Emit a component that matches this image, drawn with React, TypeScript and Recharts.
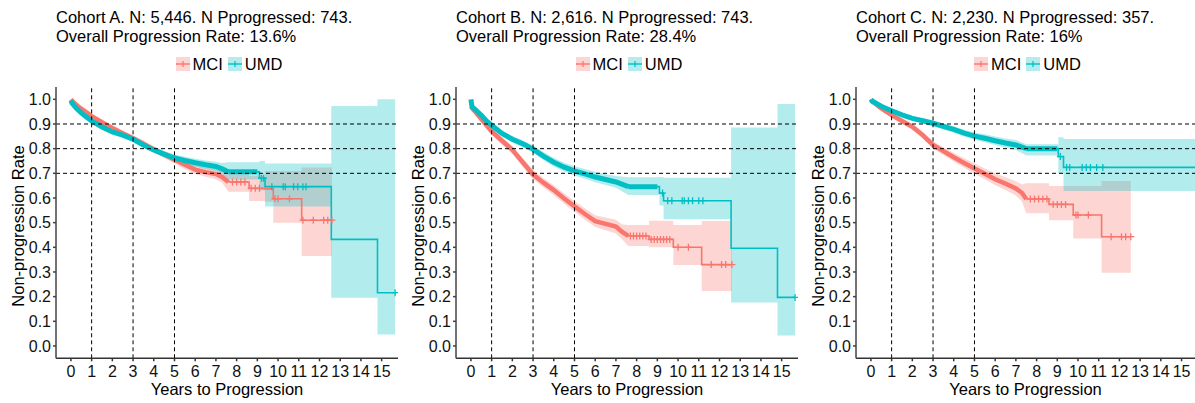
import React from 'react';
import { ComposedChart, Line, Area, Scatter, XAxis, YAxis, ReferenceLine, Label } from 'recharts';

type Pt = [number, number, number, number]; // time, survival, lower CI, upper CI

const RED = '#F8766D';
const TEAL = '#00BFC4';
const FONT = '"Liberation Sans", Arial, Helvetica, sans-serif';

const X_TICKS = [0, 1, 2, 3, 4, 5, 6, 7, 8, 9, 10, 11, 12, 13, 14, 15];
const Y_TICKS = [0, 0.1, 0.2, 0.3, 0.4, 0.5, 0.6, 0.7, 0.8, 0.9, 1.0];
const H_REFS = [0.9, 0.8, 0.7];
const V_REFS = [1, 3, 5];
const SERIES_NAMES = ['MCI', 'UMD'];

// ---------- Cohort A ----------
const A_MCI: Pt[] = [
  [0, 1.0, 1.0, 1.0], [0.1, 0.99, 0.985, 0.995], [0.3, 0.975, 0.968, 0.982], [0.5, 0.962, 0.954, 0.97],
  [0.75, 0.947, 0.938, 0.956], [1.0, 0.932, 0.923, 0.941], [1.25, 0.92, 0.91, 0.93], [1.5, 0.907, 0.897, 0.917],
  [1.75, 0.895, 0.885, 0.905], [2.0, 0.884, 0.874, 0.894], [2.5, 0.862, 0.851, 0.873], [3.0, 0.842, 0.83, 0.854],
  [3.5, 0.82, 0.807, 0.833], [4.0, 0.797, 0.784, 0.81], [4.5, 0.776, 0.762, 0.79], [5.0, 0.755, 0.74, 0.77],
  [5.5, 0.735, 0.718, 0.752], [6.0, 0.715, 0.697, 0.733], [6.5, 0.705, 0.686, 0.724], [7.0, 0.697, 0.676, 0.718],
  [7.3, 0.685, 0.662, 0.708], [7.6, 0.665, 0.625, 0.705], [8.6, 0.639, 0.588, 0.69], [9.37, 0.637, 0.585, 0.709],
  [9.77, 0.597, 0.5, 0.709], [11.14, 0.51, 0.365, 0.724], [12.6, 0.51, 0.365, 0.724],
];
const A_UMD: Pt[] = [
  [0, 0.995, 0.99, 1.0], [0.05, 0.985, 0.98, 0.99], [0.25, 0.965, 0.958, 0.972], [0.5, 0.945, 0.938, 0.952],
  [0.75, 0.928, 0.92, 0.936], [1.0, 0.912, 0.904, 0.92], [1.5, 0.888, 0.879, 0.897], [2.0, 0.868, 0.859, 0.877],
  [2.5, 0.855, 0.845, 0.865], [3.0, 0.838, 0.828, 0.848], [3.5, 0.815, 0.804, 0.826], [4.0, 0.795, 0.783, 0.807],
  [4.5, 0.778, 0.765, 0.791], [5.0, 0.762, 0.748, 0.776], [5.5, 0.752, 0.737, 0.767], [6.0, 0.743, 0.727, 0.759],
  [6.5, 0.735, 0.718, 0.752], [7.0, 0.728, 0.709, 0.747], [7.3, 0.718, 0.697, 0.742], [7.6, 0.706, 0.675, 0.745],
  [9.1, 0.68, 0.63, 0.75], [9.37, 0.646, 0.565, 0.74], [12.57, 0.432, 0.196, 0.973], [14.8, 0.216, 0.047, 1.0],
  [15.65, 0.216, 0.047, 1.0],
];
const A_MCI_CENSOR = [7.8, 8.0, 8.2, 8.4, 8.7, 8.9, 9.1, 9.85, 10.0, 10.55, 11.2, 11.7, 12.2, 12.4, 12.6];
const A_UMD_CENSOR = [9.2, 9.3, 9.7, 10.25, 10.35, 10.75, 10.95, 11.2, 11.35, 15.65];

// ---------- Cohort B ----------
const B_MCI: Pt[] = [
  [0, 0.97, 0.96, 0.98], [0.25, 0.945, 0.935, 0.955], [0.5, 0.92, 0.909, 0.931], [0.75, 0.895, 0.883, 0.907],
  [1.0, 0.87, 0.857, 0.883], [1.5, 0.832, 0.817, 0.847], [2.0, 0.795, 0.779, 0.811], [2.5, 0.745, 0.728, 0.762],
  [3.0, 0.695, 0.677, 0.713], [3.5, 0.662, 0.643, 0.681], [4.0, 0.632, 0.612, 0.652], [4.5, 0.598, 0.577, 0.619],
  [5.0, 0.566, 0.544, 0.588], [5.5, 0.535, 0.512, 0.558], [6.0, 0.506, 0.482, 0.53], [6.5, 0.495, 0.469, 0.521],
  [7.0, 0.484, 0.456, 0.512], [7.3, 0.462, 0.432, 0.492], [7.6, 0.446, 0.405, 0.49], [8.6, 0.432, 0.4, 0.508],
  [9.77, 0.4, 0.328, 0.49], [11.14, 0.33, 0.223, 0.507], [12.6, 0.33, 0.223, 0.507],
];
const B_UMD: Pt[] = [
  [0, 1.0, 1.0, 1.0], [0.05, 0.97, 0.963, 0.977], [0.25, 0.955, 0.947, 0.963], [0.5, 0.935, 0.926, 0.944],
  [0.75, 0.912, 0.902, 0.922], [1.0, 0.895, 0.884, 0.906], [1.5, 0.862, 0.85, 0.874], [2.0, 0.838, 0.825, 0.851],
  [2.5, 0.82, 0.806, 0.834], [3.0, 0.798, 0.783, 0.813], [3.5, 0.77, 0.754, 0.786], [4.0, 0.745, 0.728, 0.762],
  [4.5, 0.725, 0.707, 0.743], [5.0, 0.71, 0.691, 0.729], [5.5, 0.698, 0.678, 0.718], [6.0, 0.685, 0.664, 0.706],
  [6.5, 0.675, 0.653, 0.697], [7.0, 0.665, 0.641, 0.689], [7.6, 0.646, 0.612, 0.684], [9.1, 0.62, 0.57, 0.685],
  [9.3, 0.589, 0.514, 0.682], [12.56, 0.396, 0.176, 0.886], [14.8, 0.197, 0.042, 0.981], [15.65, 0.197, 0.042, 0.981],
];
const B_MCI_CENSOR = [7.7, 7.85, 8.0, 8.15, 8.3, 8.45, 8.7, 8.85, 9.0, 9.15, 9.3, 9.45, 9.6, 10.0, 10.5, 11.6, 12.1, 12.3, 12.6];
const B_UMD_CENSOR = [9.25, 9.5, 9.7, 10.2, 10.3, 10.5, 10.7, 11.0, 11.2, 15.65];

// ---------- Cohort C ----------
const C_MCI: Pt[] = [
  [0, 1.0, 1.0, 1.0], [0.1, 0.99, 0.985, 0.995], [0.5, 0.963, 0.955, 0.971], [1.0, 0.936, 0.926, 0.946],
  [1.5, 0.912, 0.901, 0.923], [2.0, 0.889, 0.877, 0.901], [2.5, 0.855, 0.841, 0.869], [3.0, 0.815, 0.8, 0.83],
  [3.5, 0.79, 0.774, 0.806], [4.0, 0.765, 0.748, 0.782], [4.5, 0.742, 0.723, 0.761], [5.0, 0.72, 0.699, 0.741],
  [5.5, 0.698, 0.676, 0.72], [6.0, 0.676, 0.652, 0.7], [6.5, 0.658, 0.632, 0.684], [7.0, 0.639, 0.61, 0.668],
  [7.3, 0.62, 0.585, 0.655], [7.5, 0.596, 0.538, 0.66], [8.6, 0.574, 0.51, 0.649], [9.77, 0.531, 0.436, 0.649],
  [11.14, 0.443, 0.297, 0.669], [12.55, 0.443, 0.297, 0.669],
];
const C_UMD: Pt[] = [
  [0, 1.0, 1.0, 1.0], [0.05, 0.993, 0.99, 0.996], [0.5, 0.972, 0.966, 0.978], [1.0, 0.954, 0.947, 0.961],
  [1.5, 0.937, 0.929, 0.945], [2.0, 0.923, 0.914, 0.932], [2.5, 0.913, 0.903, 0.923], [3.0, 0.903, 0.892, 0.914],
  [3.5, 0.89, 0.878, 0.902], [4.0, 0.878, 0.865, 0.891], [4.5, 0.863, 0.849, 0.877], [5.0, 0.851, 0.836, 0.866],
  [5.5, 0.842, 0.826, 0.858], [6.0, 0.832, 0.815, 0.849], [6.5, 0.823, 0.805, 0.841], [7.0, 0.815, 0.795, 0.835],
  [7.5, 0.8, 0.772, 0.818], [9.05, 0.768, 0.7, 0.846], [9.3, 0.724, 0.628, 0.839], [15.65, 0.724, 0.628, 0.839],
];
const C_MCI_CENSOR = [7.7, 7.9, 8.1, 8.3, 8.5, 8.8, 9.0, 9.2, 9.4, 9.9, 10.0, 10.5, 11.6, 12.1, 12.3, 12.55];
const C_UMD_CENSOR = [9.15, 9.45, 9.6, 10.2, 10.4, 10.6, 10.9, 11.2];

type Row = { t: number; s: number; band: [number, number] };
const toRows = (c: Pt[]): Row[] => c.map(([t, s, lo, hi]) => ({ t, s, band: [lo, hi] }));
const valueAt = (c: Pt[], t: number) => {
  let v = c[0][1];
  for (const p of c) if (p[0] <= t) v = p[1];
  return v;
};
// early part (many tiny steps, drawn smooth) and sparse tail (drawn as steps)
const headRows = (c: Pt[], split: number) => toRows(c.filter((p) => p[0] <= split));
const tailRows = (c: Pt[], split: number) => toRows(c.filter((p) => p[0] >= split));
const stepSegment = (c: Pt[], from: number, to: number) => {
  const rows = c.filter((p) => p[0] >= from && p[0] <= to).map((p) => ({ t: p[0], s: p[1] }));
  rows.push({ t: to, s: valueAt(c, to) });
  return rows;
};
const censorRows = (c: Pt[], times: number[]) => times.map((t) => ({ t, s: valueAt(c, t) }));

const plusShape = (color: string) => (props: any) => {
  const { cx, cy } = props;
  if (cx == null || cy == null) return <g />;
  return (
    <path
      d={`M${cx - 3.5},${cy}H${cx + 3.5}M${cx},${cy - 3.5}V${cy + 3.5}`}
      stroke={color}
      strokeWidth={1.3}
      fill="none"
    />
  );
};

type PanelProps = {
  left: number;
  width: number;
  right: number;
  xMax: number;
  title1: string;
  title2: string;
  mci: Pt[];
  umd: Pt[];
  mciCensor: number[];
  umdCensor: number[];
  mciSplit: number;
  umdSplit: number;
  mciDenseEnd: number;
  umdDenseEnd: number;
};

const LegendKey = ({ color }: { color: string }) => (
  <svg width={14} height={14} style={{ display: 'block' }}>
    <rect x={0} y={0} width={14} height={14} fill={color} fillOpacity={0.3} />
    <line x1={0} x2={14} y1={7} y2={7} stroke={color} strokeWidth={1.4} />
    <line x1={7} x2={7} y1={4} y2={10} stroke={color} strokeWidth={1.2} />
  </svg>
);

const Panel = (p: PanelProps) => {
  const plotLeft = 56;
  const plotRight = p.width - p.right;
  const plotCenter = (plotLeft + plotRight) / 2;
  const mHead = headRows(p.mci, p.mciSplit);
  const mTail = tailRows(p.mci, p.mciSplit);
  const uHead = headRows(p.umd, p.umdSplit);
  const uTail = tailRows(p.umd, p.umdSplit);
  const common = { isAnimationActive: false, dot: false } as const;
  return (
    <div style={{ position: 'absolute', left: p.left, top: 0, width: p.width, height: 403, fontFamily: FONT }}>
      <div
        style={{
          position: 'absolute',
          left: 56,
          top: 7.5,
          fontSize: 16.5,
          lineHeight: '19.5px',
          color: '#000',
          whiteSpace: 'nowrap',
        }}
      >
        <div>{p.title1}</div>
        <div>{p.title2}</div>
      </div>
      <div
        style={{
          position: 'absolute',
          left: plotCenter - 150 + 2,
          width: 300,
          top: 56,
          height: 16,
          display: 'flex',
          justifyContent: 'center',
          alignItems: 'center',
          fontSize: 16.5,
          color: '#000',
        }}
      >
        <LegendKey color={RED} />
        <span style={{ marginLeft: 3, marginRight: 5 }}>{SERIES_NAMES[0]}</span>
        <LegendKey color={TEAL} />
        <span style={{ marginLeft: 3 }}>{SERIES_NAMES[1]}</span>
      </div>
      <div style={{ position: 'absolute', left: 0, top: 0 }}>
        <ComposedChart width={p.width} height={403} margin={{ top: 87, right: p.right, left: 0, bottom: 14.7 }}>
          <XAxis
            type="number"
            dataKey="t"
            domain={[-0.72, p.xMax]}
            ticks={X_TICKS}
            interval={0}
            allowDataOverflow
            height={30}
            tickSize={3}
            tickMargin={4}
            stroke="#333"
            strokeWidth={1.5}
            tick={{ fontSize: 16, fill: '#111', fontFamily: FONT }}
          >
            <Label
              content={() => (
                <text x={plotCenter} y={394.5} textAnchor="middle" fontSize={16.5} fill="#000" fontFamily={FONT}>
                  Years to Progression
                </text>
              )}
            />
          </XAxis>
          <YAxis
            type="number"
            domain={[-0.05, 1.05]}
            ticks={Y_TICKS}
            interval={0}
            allowDataOverflow
            width={56}
            tickSize={3}
            tickMargin={2}
            stroke="#444"
            strokeWidth={1.5}
            tickFormatter={(v: number) => v.toFixed(1)}
            tick={{ fontSize: 16, fill: '#111', fontFamily: FONT }}
          >
            <Label
              content={() => (
                <text
                  x={18}
                  y={226}
                  transform="rotate(-90, 18, 226)"
                  textAnchor="middle"
                  dominantBaseline="central"
                  fontSize={16.5}
                  fill="#000"
                  fontFamily={FONT}
                >
                  Non-progression Rate
                </text>
              )}
            />
          </YAxis>
          {/* confidence bands */}
          <Area data={mHead} dataKey="band" type="linear" fill={RED} fillOpacity={0.3} stroke="none" isAnimationActive={false} />
          <Area data={mTail} dataKey="band" type="stepAfter" fill={RED} fillOpacity={0.3} stroke="none" isAnimationActive={false} />
          <Area data={uHead} dataKey="band" type="linear" fill={TEAL} fillOpacity={0.3} stroke="none" isAnimationActive={false} />
          <Area data={uTail} dataKey="band" type="stepAfter" fill={TEAL} fillOpacity={0.3} stroke="none" isAnimationActive={false} />
          {/* survival curves */}
          <Line {...common} data={mTail} dataKey="s" type="stepAfter" stroke={RED} strokeWidth={1.6} />
          <Line {...common} data={mHead} dataKey="s" type="linear" stroke={RED} strokeWidth={4.5} />
          <Line {...common} data={stepSegment(p.mci, p.mciSplit, p.mciDenseEnd)} dataKey="s" type="stepAfter" stroke={RED} strokeWidth={4.5} />
          <Line {...common} data={uTail} dataKey="s" type="stepAfter" stroke={TEAL} strokeWidth={1.6} />
          <Line {...common} data={uHead} dataKey="s" type="linear" stroke={TEAL} strokeWidth={5} />
          <Line {...common} data={stepSegment(p.umd, p.umdSplit, p.umdDenseEnd)} dataKey="s" type="stepAfter" stroke={TEAL} strokeWidth={5} />
          {/* censoring marks */}
          <Scatter data={censorRows(p.mci, p.mciCensor)} dataKey="s" shape={plusShape(RED)} isAnimationActive={false} />
          <Scatter data={censorRows(p.umd, p.umdCensor)} dataKey="s" shape={plusShape(TEAL)} isAnimationActive={false} />
          {H_REFS.map((y) => (
            <ReferenceLine key={'h' + y} y={y} stroke="#000" strokeWidth={1} strokeDasharray="4 3" />
          ))}
          {V_REFS.map((x) => (
            <ReferenceLine key={'v' + x} x={x} stroke="#000" strokeWidth={1} strokeDasharray="4 3" />
          ))}
        </ComposedChart>
      </div>
    </div>
  );
};

export default function App() {
  return (
    <div style={{ position: 'absolute', left: 0, top: 0, width: 1195, height: 403, background: '#fff', overflow: 'hidden' }}>
      <Panel
        left={0}
        width={400}
        right={2}
        xMax={15.79}
        title1="Cohort A. N: 5,446. N Pprogressed: 743."
        title2="Overall Progression Rate: 13.6%"
        mci={A_MCI}
        umd={A_UMD}
        mciCensor={A_MCI_CENSOR}
        umdCensor={A_UMD_CENSOR}
        mciSplit={7.6}
        umdSplit={7.6}
        mciDenseEnd={7.6}
        umdDenseEnd={9.0}
      />
      <Panel
        left={400}
        width={400}
        right={2}
        xMax={15.79}
        title1="Cohort B. N: 2,616. N Pprogressed: 743."
        title2="Overall Progression Rate: 28.4%"
        mci={B_MCI}
        umd={B_UMD}
        mciCensor={B_MCI_CENSOR}
        umdCensor={B_UMD_CENSOR}
        mciSplit={7.6}
        umdSplit={7.6}
        mciDenseEnd={7.6}
        umdDenseEnd={9.0}
      />
      <Panel
        left={800}
        width={395}
        right={0}
        xMax={15.65}
        title1="Cohort C. N: 2,230. N Pprogressed: 357."
        title2="Overall Progression Rate: 16%"
        mci={C_MCI}
        umd={C_UMD}
        mciCensor={C_MCI_CENSOR}
        umdCensor={C_UMD_CENSOR}
        mciSplit={7.5}
        umdSplit={7.5}
        mciDenseEnd={7.5}
        umdDenseEnd={9.0}
      />
    </div>
  );
}
